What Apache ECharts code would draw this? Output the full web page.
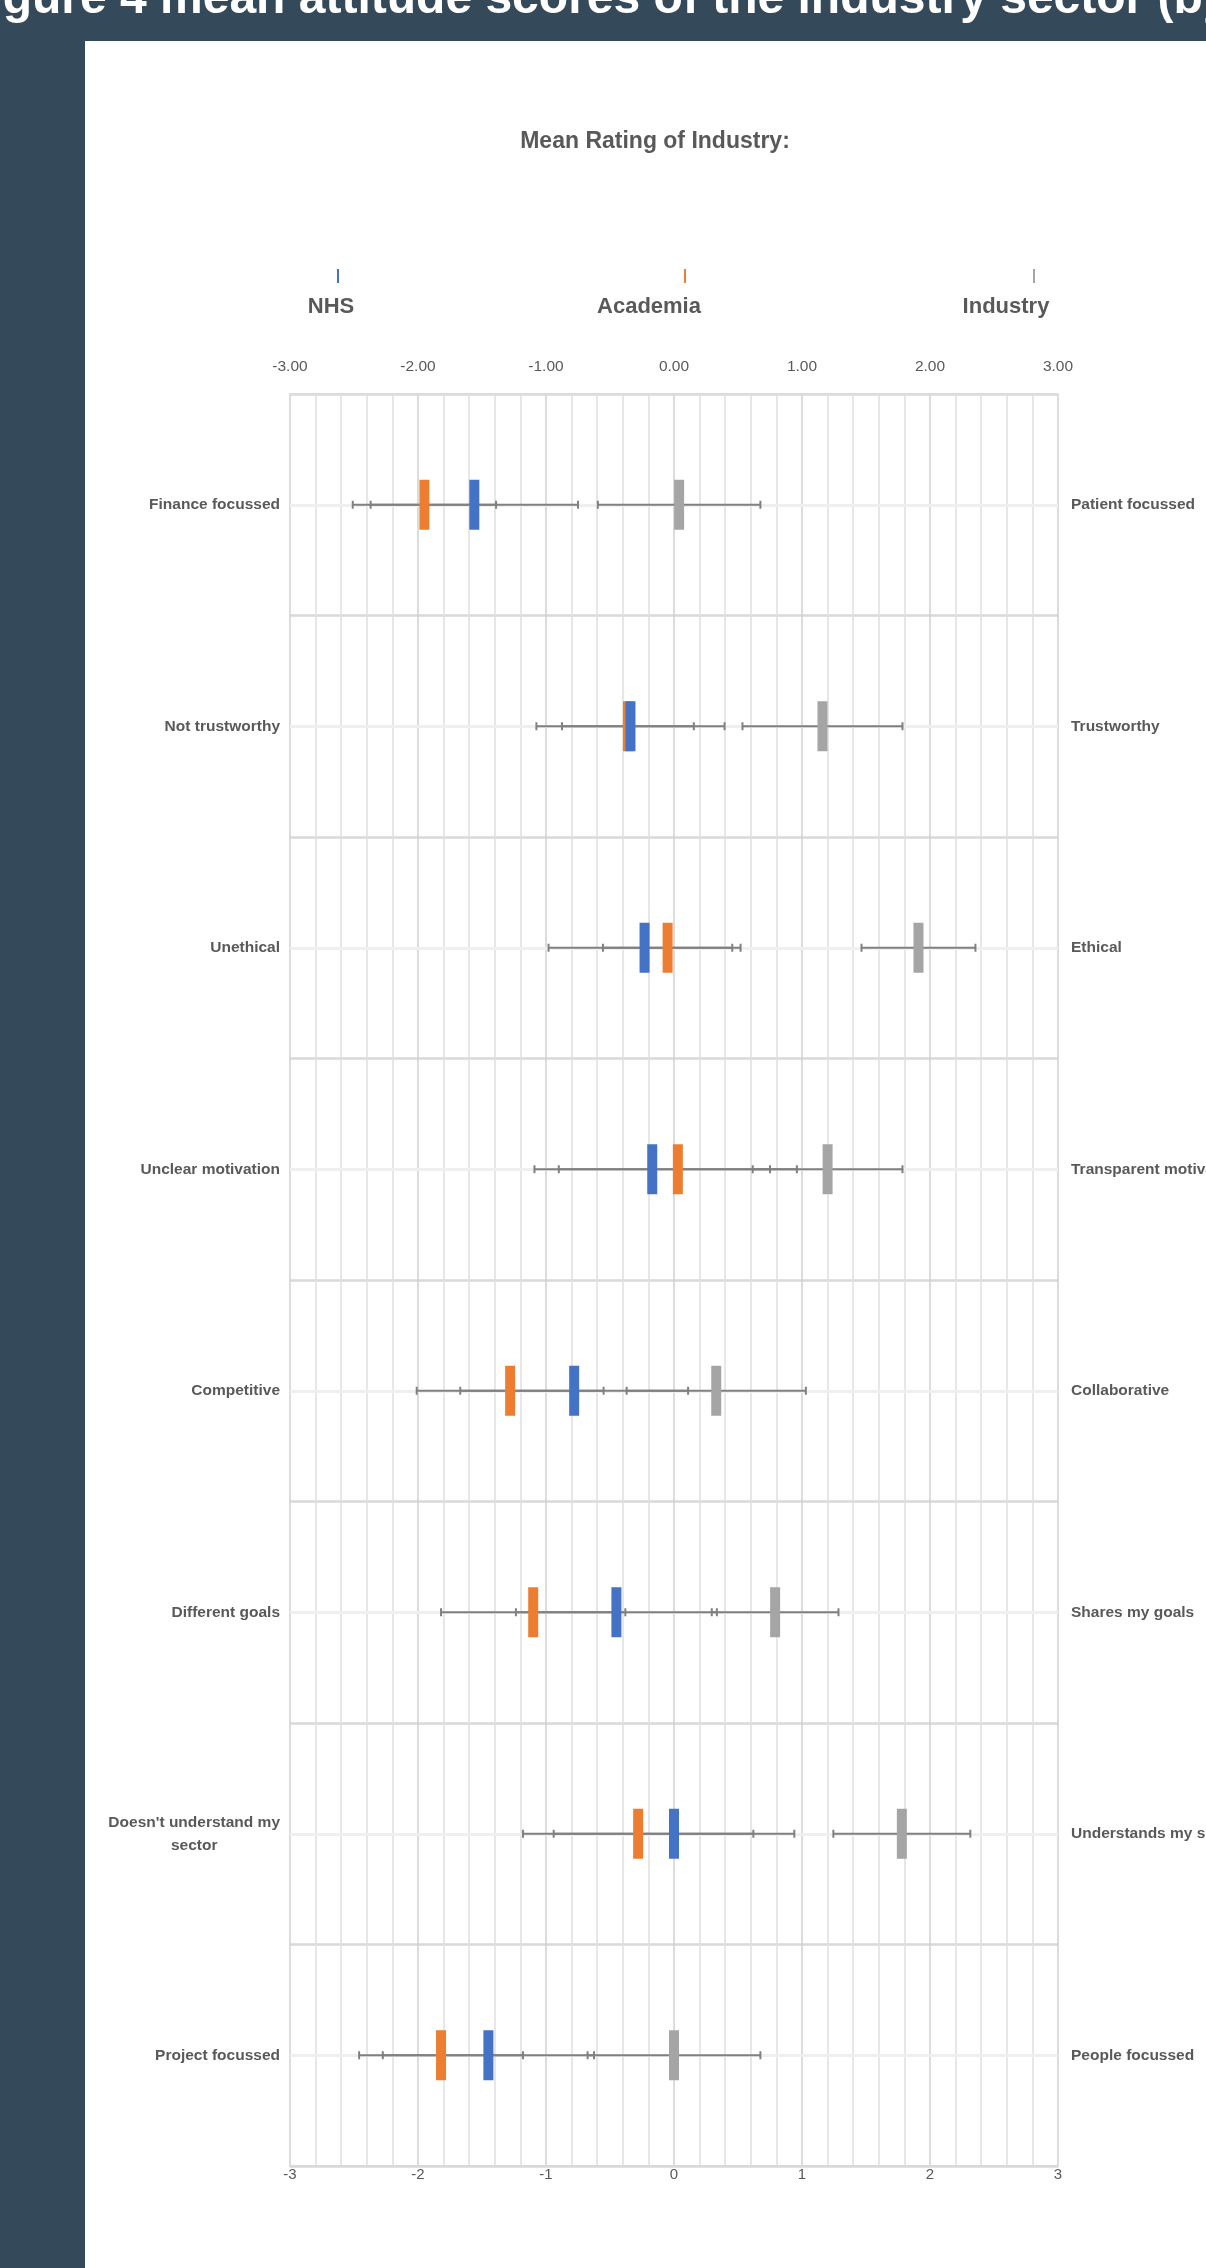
<!DOCTYPE html>
<html>
<head>
<meta charset="utf-8">
<script src="https://cdn.jsdelivr.net/npm/echarts@6/dist/echarts.min.js"></script>
<style>
  html, body { margin: 0; padding: 0; background: #344959; }
  #panel { position: absolute; left: 85px; top: 41px; width: 1121px; height: 2227px; background: #ffffff; }
  #chart { position: absolute; left: 0; top: 0; width: 1206px; height: 2268px; }
</style>
</head>
<body>
<div id="panel"></div>
<div id="chart"></div>
<script>
// Attribute pairs: negative pole (left) and positive pole (right)
const leftLabels = [
  'Finance focussed', 'Not trustworthy', 'Unethical', 'Unclear motivation',
  'Competitive', 'Different goals', "Doesn't understand my sector", 'Project focussed'
];
const rightLabels = [
  'Patient focussed', 'Trustworthy', 'Ethical', 'Transparent motivation',
  'Collaborative', 'Shares my goals', 'Understands my sector', 'People focussed'
];

// Mean rating of industry by respondent sector, with error half-widths
const nhsMean  = [-1.56, -0.34, -0.23, -0.17, -0.78, -0.45, 0.00, -1.45];
const nhsErr   = [0.81, 0.735, 0.75, 0.92, 0.89, 0.785, 0.94, 0.825];
const acadMean = [-1.95, -0.36, -0.05, 0.03, -1.28, -1.10, -0.28, -1.82];
const acadErr  = [0.56, 0.515, 0.505, 0.93, 0.73, 0.72, 0.90, 0.64];
const indMean  = [0.04, 1.16, 1.91, 1.20, 0.33, 0.79, 1.78, 0.00];
const indErr   = [0.635, 0.625, 0.445, 0.585, 0.70, 0.495, 0.535, 0.675];

const groupNames  = ['NHS', 'Academia', 'Industry'];
const groupColors = ['#4472C4', '#ED7D31', '#A5A5A5'];

const scaleMin = -3, scaleMax = 3;
const topTickDecimals = 2;

const textGrey = '#595959';
const sans = '"Liberation Sans", Arial, sans-serif';

const chart = echarts.init(document.getElementById('chart'), null, { renderer: 'canvas' });

function wrapLabel(s, maxLen) {
  const words = s.split(' ');
  const lines = [];
  let cur = '';
  words.forEach(w => {
    const next = cur ? cur + ' ' + w : w;
    if (next.length > maxLen && cur) { lines.push(cur); cur = w; } else { cur = next; }
  });
  if (cur) lines.push(cur);
  return lines;
}

function errorData(means, errs) {
  return means.map((m, i) => [m, i, errs[i]]);
}
function pointData(means) {
  return means.map((m, i) => [m, i]);
}

function renderErrorBar(params, api) {
  const m = api.value(0), c = api.value(1), e = api.value(2);
  const p1 = api.coord([m - e, c]);
  const p2 = api.coord([m + e, c]);
  const cap = 4;
  const st = { stroke: '#808080', lineWidth: 2 };
  return {
    type: 'group',
    children: [
      { type: 'line', shape: { x1: p1[0], y1: p1[1], x2: p2[0], y2: p2[1] }, style: st },
      { type: 'line', shape: { x1: p1[0], y1: p1[1] - cap, x2: p1[0], y2: p1[1] + cap }, style: st },
      { type: 'line', shape: { x1: p2[0], y1: p2[1] - cap, x2: p2[0], y2: p2[1] + cap }, style: st }
    ]
  };
}

const errSets = [[nhsMean, nhsErr], [acadMean, acadErr], [indMean, indErr]];
const errorSeries = errSets.map((set, k) => ({
  type: 'custom',
  name: groupNames[k] + ' error',
  xAxisIndex: 0,
  yAxisIndex: 0,
  renderItem: renderErrorBar,
  encode: { x: 0, y: 1 },
  data: errorData(set[0], set[1]),
  z: 3,
  silent: true,
  markLine: k === 0 ? {
    silent: true,
    symbol: 'none',
    label: { show: false },
    lineStyle: { color: '#efefef', width: 3, type: 'solid' },
    data: leftLabels.map((c, i) => ({ yAxis: i })),
    z: 1
  } : undefined
}));

// Draw order keeps NHS above Academia where the means overlap
const meanSeries = [
  { name: 'Industry', data: pointData(indMean), color: groupColors[2] },
  { name: 'Academia', data: pointData(acadMean), color: groupColors[1] },
  { name: 'NHS', data: pointData(nhsMean), color: groupColors[0] }
].map(s => ({
  type: 'scatter',
  name: s.name,
  xAxisIndex: 0,
  yAxisIndex: 0,
  symbol: 'rect',
  symbolSize: [10, 50],
  itemStyle: { color: s.color, opacity: 1 },
  data: s.data,
  z: 5,
  silent: true
}));

// Legend: a short coloured stroke above each sector name
const legendLayout = [
  { mark: 338, text: 331 },
  { mark: 685, text: 649 },
  { mark: 1034, text: 1006 }
];
const legendGraphics = [];
groupNames.forEach((n, k) => {
  legendGraphics.push({
    type: 'rect', shape: { x: legendLayout[k].mark - 1, y: 269, width: 2, height: 14 },
    style: { fill: groupColors[k] }, silent: true
  });
  legendGraphics.push({
    type: 'text', x: legendLayout[k].text, y: 307,
    style: { text: n, fill: textGrey, font: 'bold 22px ' + sans, textAlign: 'center', textVerticalAlign: 'middle' },
    silent: true
  });
});

const labelFont = { fontFamily: sans, fontWeight: 'bold', fontSize: 15.5, color: textGrey };

const option = {
  backgroundColor: 'transparent',
  animation: false,
  grid: { left: 290, right: 148, top: 394, bottom: 102, containLabel: false, outerBoundsMode: 'none' },
  xAxis: [
    {
      type: 'value', position: 'bottom', min: scaleMin, max: scaleMax, interval: 1,
      axisLine: { show: true, lineStyle: { color: '#d9d9d9', width: 2 } },
      axisTick: { show: false },
      axisLabel: { show: true, margin: 1, color: textGrey, fontFamily: sans, fontSize: 15,
        formatter: v => String(v) },
      splitLine: { show: true, lineStyle: { color: '#d0d0d0', width: 1.5 } },
      minorTick: { show: false, splitNumber: 5 },
      minorSplitLine: { show: true, lineStyle: { color: '#e0e0e0', width: 1.5 } }
    },
    {
      type: 'value', position: 'top', min: scaleMin, max: scaleMax, interval: 1,
      axisLine: { show: true, onZero: false, lineStyle: { color: '#dcdcdc', width: 2 } },
      axisTick: { show: false },
      axisLabel: { show: true, margin: 19, color: textGrey, fontFamily: sans, fontSize: 15.5,
        formatter: v => v.toFixed(topTickDecimals) },
      splitLine: { show: false }
    }
  ],
  yAxis: [
    {
      type: 'category', position: 'left', inverse: true, data: leftLabels,
      boundaryGap: true,
      axisLine: { show: false },
      axisTick: { show: false },
      axisLabel: {
        show: true, margin: 10, interval: 0,
        formatter: v => wrapLabel(v, 22).map(l => '{c|' + l + '}').join('\n'),
        rich: { c: Object.assign({ lineHeight: 23, align: 'center' }, labelFont) }
      },
      splitLine: { show: true, interval: 0, lineStyle: { color: '#d9d9d9', width: 2.5 } }
    },
    {
      type: 'category', position: 'right', inverse: true, data: rightLabels,
      boundaryGap: true,
      axisLine: { show: false },
      axisTick: { show: false },
      axisLabel: Object.assign({ show: true, margin: 13, interval: 0, align: 'left' }, labelFont),
      splitLine: { show: false }
    }
  ],
  graphic: [
    {
      type: 'text', x: -40, y: 24,
      style: {
        text: 'Figure 4 mean attitude scores of the industry sector (by sector)',
        fill: '#ffffff', font: 'bold 48px ' + sans, textAlign: 'left', textVerticalAlign: 'bottom'
      },
      silent: true
    },
    {
      type: 'text', x: 655, y: 142,
      style: { text: 'Mean Rating of Industry:', fill: textGrey, font: 'bold 23px ' + sans,
        textAlign: 'center', textVerticalAlign: 'middle' },
      silent: true
    }
  ].concat(legendGraphics),
  series: errorSeries.concat(meanSeries)
};

chart.setOption(option);
</script>
</body>
</html>
